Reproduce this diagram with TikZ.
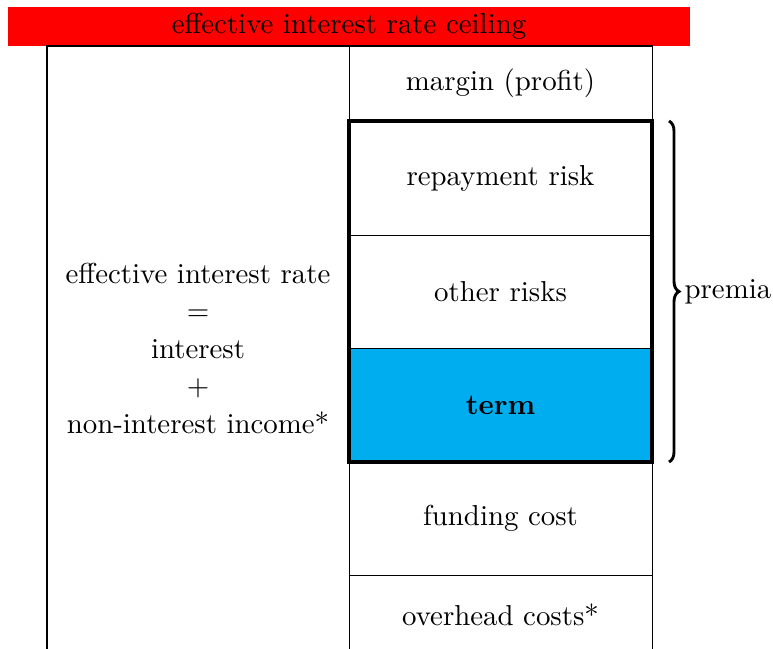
\documentclass[tikz,border=0pt]{standalone}
\usetikzlibrary{decorations.pathreplacing}
\definecolor{termblue}{RGB}{0,174,239}
\begin{document}
\begin{tikzpicture}[x=0.3466pt,y=-0.3466pt,
  cell/.style={draw, line width=0.35pt, minimum width=303*0.3466pt, inner sep=0pt, outer sep=0pt},
  strong/.style={line width=1.2pt},
  txt/.style={font=\fontsize{10}{13}\selectfont, align=center}]
\useasboundingbox (0,0) rectangle (773,648);
% heading bar
\node[fill=red, inner sep=0pt, outer sep=0pt, minimum width=682*0.3466pt, minimum height=39*0.3466pt, txt]
  (ceiling) at (349,26.5) {effective interest rate ceiling};
% left column
\node[draw, line width=0.35pt, inner sep=0pt, minimum width=302*0.3466pt, minimum height=610*0.3466pt, txt]
  (rate) at (198,351) {};
\node[txt] (ratetxt) at (198,348) {effective interest rate\\=\\interest\\+\\non-interest income*};
% middle column cells
\node[cell, minimum height=75*0.3466pt, txt] (margin) at (500.5,83.5) {margin (profit)};
\node[cell, minimum height=114*0.3466pt, txt] (repay) at (500.5,178) {repayment risk};
\node[cell, minimum height=113*0.3466pt, txt] (other) at (500.5,291.5) {other risks};
\node[cell, fill=termblue, minimum height=114*0.3466pt, txt] (term) at (500.5,405) {\textbf{term}};
\node[cell, minimum height=113*0.3466pt, txt] (funding) at (500.5,518.5) {funding cost};
\node[cell, minimum height=80*0.3466pt, txt] (overhead) at (500.5,615) {overhead costs*};
% premia group
\draw[strong] (repay.north west) rectangle (term.south east);
\draw[line width=1pt, decorate, decoration={brace, amplitude=10*0.3466pt}]
  ([xshift=17*0.3466pt]repay.north east) -- ([xshift=17*0.3466pt]term.south east);
\node[txt, anchor=west, inner sep=0pt] (premia) at (684,292) {premia};
\end{tikzpicture}
\end{document}
